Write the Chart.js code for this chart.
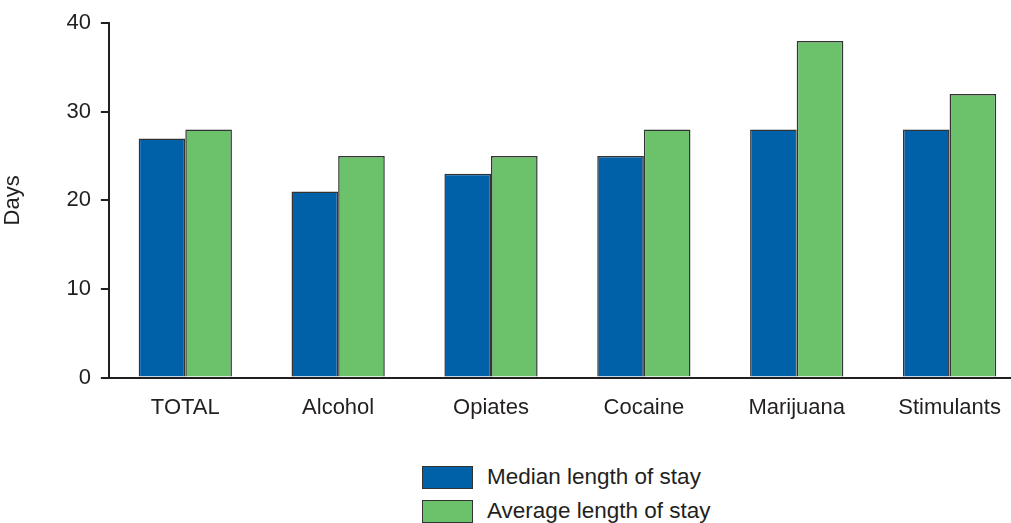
<!DOCTYPE html>
<html lang="en">
<head>
    <meta charset="UTF-8">
    <title>Length of stay</title>
    <script src="https://cdn.jsdelivr.net/npm/chart.js"></script>
    <style>
        body {
            margin: 0;
            background: #fff;
            overflow: hidden;
            font-family: "Liberation Sans", Arial, sans-serif;
        }
        .wrap {
            position: relative;
            width: 1026px;
            height: 430px;
        }
        .legend {
            position: absolute;
            left: 422px;
            top: 460px;
            color: #231f20;
            font-size: 22.5px;
        }
        .legend div {
            display: flex;
            align-items: center;
            height: 34px;
        }
        .legend span.box {
            display: inline-block;
            width: 49px;
            height: 21px;
            border: 1.5px solid #333;
            margin-right: 14px;
        }
    </style>
</head>
<body>
    <div class="wrap">
        <canvas id="myChart" width="1026" height="430"></canvas>
    </div>
    <div class="legend" id="legend"></div>

    <script>
        const categories = ['TOTAL', 'Alcohol', 'Opiates', 'Cocaine', 'Marijuana', 'Stimulants'];
        const seriesNames = ['Median length of stay', 'Average length of stay'];
        const medianStay = [27, 21, 23, 25, 28, 28];
        const averageStay = [28, 25, 25, 28, 38, 32];
        const yTicks = [0, 10, 20, 30, 40];

        const colors = ['#0061a9', '#6cc16b'];
        const ink = '#231f20';

        const ctx = document.getElementById('myChart').getContext('2d');
        const myChart = new Chart(ctx, {
            type: 'bar',
            data: {
                labels: categories,
                datasets: [
                    { label: seriesNames[0], data: medianStay, backgroundColor: colors[0] },
                    { label: seriesNames[1], data: averageStay, backgroundColor: colors[1] }
                ]
            },
            options: {
                responsive: false,
                animation: false,
                layout: { padding: { top: 10, right: 0, left: 0, bottom: 0 } },
                datasets: {
                    bar: {
                        borderColor: '#333',
                        borderWidth: 1.5,
                        borderSkipped: 'bottom',
                        barPercentage: 1,
                        categoryPercentage: 0.61
                    }
                },
                plugins: {
                    legend: { display: false },
                    tooltip: { enabled: false }
                },
                scales: {
                    x: {
                        grid: { display: false },
                        border: { color: ink, width: 2 },
                        ticks: {
                            color: ink,
                            font: { family: 'Liberation Sans', size: 22 },
                            padding: 9
                        }
                    },
                    y: {
                        min: 0,
                        max: 40,
                        afterBuildTicks: axis => {
                            axis.ticks = yTicks.map(v => ({ value: v }));
                        },
                        grid: {
                            drawOnChartArea: false,
                            drawTicks: true,
                            tickLength: 8,
                            color: ink,
                            lineWidth: 2
                        },
                        border: { color: ink, width: 2 },
                        ticks: {
                            color: ink,
                            font: { family: 'Liberation Sans', size: 22 },
                            padding: 10
                        },
                        title: {
                            display: true,
                            text: 'Days',
                            color: ink,
                            font: { family: 'Liberation Sans', size: 22 },
                            padding: { top: 0, bottom: 30 }
                        }
                    }
                }
            }
        });

        // legend below the chart
        const legendBox = document.getElementById('legend');
        seriesNames.forEach((name, i) => {
            const row = document.createElement('div');
            const box = document.createElement('span');
            box.className = 'box';
            box.style.background = colors[i];
            row.appendChild(box);
            row.appendChild(document.createTextNode(name));
            legendBox.appendChild(row);
        });
    </script>
</body>
</html>
